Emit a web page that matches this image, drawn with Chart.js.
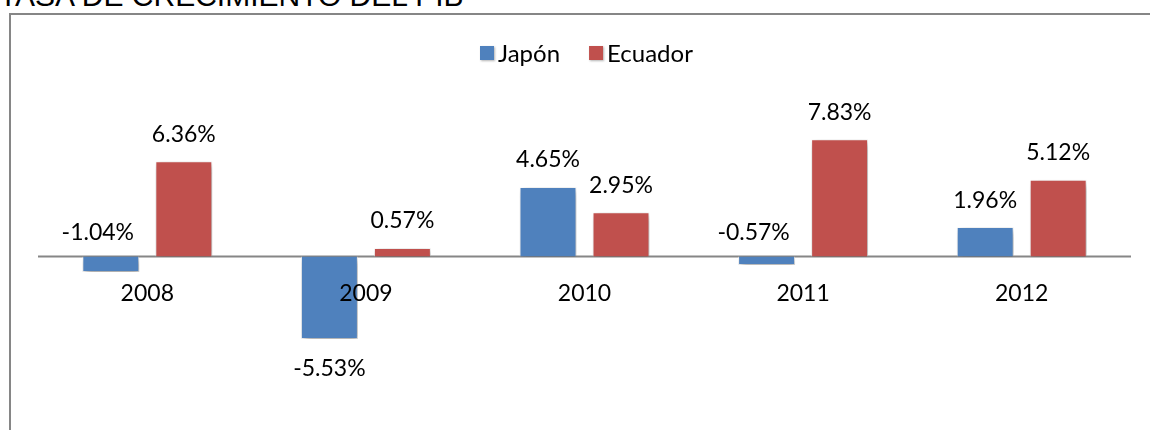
<!DOCTYPE html>
<html>
<head>
<meta charset="utf-8">
<script src="https://cdn.jsdelivr.net/npm/chart.js@4/dist/chart.umd.min.js"></script>
<style>
    html, body { margin: 0; overflow: hidden; }
    body { width: 1150px; height: 430px; background: #fff; position: relative; }
    #titulo { position: absolute; left: -1px; top: -19px; font: 30px/30px "Liberation Sans", Arial, sans-serif; color: #000; white-space: nowrap; }
    #marco { position: absolute; left: 9px; top: 13px; width: 1139px; height: 415px; border-left: 2px solid #868686; border-top: 2px solid #868686; }
    #barChart { position: absolute; left: 0; top: 0; }
</style>
</head>
<body>
<div id="titulo">TASA DE CRECIMIENTO DEL PIB</div>
<div id="marco"></div>
<canvas id="barChart" width="1150" height="430"></canvas>
<script>
// Datos
const years = ['2008', '2009', '2010', '2011', '2012'];
const japon = [-1.04, -5.53, 4.65, -0.57, 1.96];
const ecuador = [6.36, 0.57, 2.95, 7.83, 5.12];
const seriesNames = ['Japón', 'Ecuador'];
const seriesColors = ['#4F81BD', '#C0504D'];

const FONT = 'Lato, "Noto Sans", sans-serif';

// sombra en las barras, linea del cero, etiquetas
const decor = {
    id: 'decor',
    beforeDatasetsDraw(chart) {
        const ctx = chart.ctx;
        const area = chart.chartArea;
        const y0 = chart.scales.y.getPixelForValue(0);
        ctx.save();
        ctx.strokeStyle = '#868686';
        ctx.lineWidth = 2;
        ctx.beginPath();
        ctx.moveTo(area.left, y0);
        ctx.lineTo(area.right, y0);
        ctx.stroke();
        ctx.restore();

        ctx.save();
        ctx.shadowColor = 'rgba(0,0,0,0.4)';
        ctx.shadowBlur = 7;
        ctx.shadowOffsetX = 2;
        ctx.shadowOffsetY = 3;
    },
    afterDatasetsDraw(chart) {
        const ctx = chart.ctx;
        ctx.restore();

        const y0 = chart.scales.y.getPixelForValue(0);
        ctx.save();
        ctx.fillStyle = '#000';
        ctx.font = '23px ' + FONT;
        ctx.textAlign = 'center';
        ctx.textBaseline = 'middle';

        // años debajo del eje
        years.forEach((yr, i) => {
            ctx.fillText(yr, chart.scales.x.getPixelForValue(i), y0 + 37);
        });

        // valores
        chart.data.datasets.forEach((ds, di) => {
            chart.getDatasetMeta(di).data.forEach((bar, i) => {
                const v = ds.data[i];
                const txt = v.toFixed(2) + '%';
                if (v >= 0) {
                    ctx.fillText(txt, bar.x, bar.y - 27);
                } else if (v > -2) {
                    ctx.fillText(txt, bar.x - 13, y0 - 24);
                } else {
                    ctx.fillText(txt, bar.x, bar.y + 30);
                }
            });
        });

        // leyenda
        ctx.font = '24px ' + FONT;
        ctx.textAlign = 'left';
        const box = 14, gapBox = 4, gapItem = 29;
        const widths = seriesNames.map(n => ctx.measureText(n).width);
        let x = 480;
        const ly = 53;
        seriesNames.forEach((n, i) => {
            ctx.save();
            ctx.shadowColor = 'rgba(0,0,0,0.3)';
            ctx.shadowBlur = 2;
            ctx.shadowOffsetX = 1;
            ctx.shadowOffsetY = 1;
            ctx.fillStyle = seriesColors[i];
            ctx.fillRect(x, ly - box / 2, box, box);
            ctx.restore();
            ctx.fillStyle = '#000';
            ctx.fillText(n, x + box + gapBox, ly + 1);
            x += box + gapBox + widths[i] + gapItem;
        });
        ctx.restore();
    }
};

const ctx = document.getElementById('barChart').getContext('2d');
new Chart(ctx, {
    type: 'bar',
    data: {
        labels: years,
        datasets: [{
            label: seriesNames[0],
            data: japon,
            backgroundColor: seriesColors[0],
            borderColor: 'rgba(255,255,255,0.6)',
            borderWidth: 1
        },
            {
                label: seriesNames[1],
                data: ecuador,
                backgroundColor: seriesColors[1],
                borderColor: 'rgba(255,255,255,0.6)',
                borderWidth: 1
            }]
    },
    options: {
        responsive: false,
        animation: false,
        categoryPercentage: 0.668,
        barPercentage: 0.78,
        layout: {
            padding: {left: 38, right: 19, top: 77, bottom: 54}
        },
        plugins: {
            legend: {display: false},
            title: {display: false},
            tooltip: {enabled: false}
        },
        scales: {
            x: {display: false},
            y: {display: false, min: -8, max: 12}
        }
    },
    plugins: [decor]
});
</script>
</body>
</html>
